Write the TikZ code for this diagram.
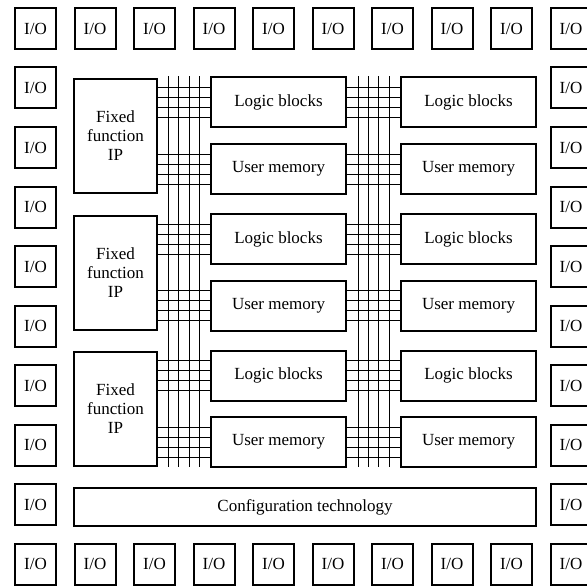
\documentclass[tikz,border=0pt]{standalone}
\usepackage{fontspec}
\setmainfont{Liberation Serif}
\usepackage{tikz}
\usetikzlibrary{positioning}
\tikzset{
    fpgapad/.style={draw, line width=2pt, minimum width=41pt, minimum height=41pt, inner sep=0pt, font=\fontsize{17}{19}\selectfont},
    fpgaip/.style={draw, line width=2pt, align=center, minimum width=83pt, minimum height=114pt, inner sep=0pt, font=\fontsize{17}{19}\selectfont},
    fpgablock/.style={draw, line width=2pt, align=center, minimum width=135pt, minimum height=50pt, inner sep=0pt, font=\fontsize{17}{19}\selectfont},
    fpgaconfig/.style={draw, line width=2pt, align=center, minimum width=462pt, minimum height=38pt, inner sep=0pt, font=\fontsize{17}{19}\selectfont},
    fpgawire/.style={draw, line width=1pt}
}
\begin{document}
\begin{tikzpicture}[x=1pt, y=-1pt]
    \useasboundingbox (0,0) rectangle (587,586);
    \clip (0,0) rectangle (587,586);

    % I/O ring
    \foreach \i in {0,...,9} {
        \node[fpgapad] (padT\i) at (35.5+59.5*\i, 28.5) {I/O};
        \node[fpgapad] (padB\i) at (35.5+59.5*\i, 564) {I/O};
    }
    \foreach \j in {1,...,8} {
        \node[fpgapad] (padL\j) at (35.5, 28.5+59.5*\j) {I/O};
        \node[fpgapad] (padR\j) at (571, 28.5+59.5*\j) {I/O};
    }

    % core blocks
    \foreach \k in {0,1,2} {
        \node[fpgaip] (ip\k) at (115.5, 136+136.5*\k) {Fixed\\function\\IP};
        \node[fpgablock] (logicL\k) at (278.5, 102.5+136.5*\k) {Logic blocks};
        \node[fpgablock] (memL\k) at (278.5, 169+136.5*\k) {User memory};
        \node[fpgablock] (logicR\k) at (468.5, 102.5+136.5*\k) {Logic blocks};
        \node[fpgablock] (memR\k) at (468.5, 169+136.5*\k) {User memory};
    }
    \node[fpgaconfig] (config) at (305, 507) {Configuration technology};

    % routing
    \coordinate (busL) at (184, 0);
    \coordinate (busR) at (373.5, 0);
    \foreach \d in {-15.5,-5.2,5.2,15.5} {
        \draw[fpgawire] ([xshift=\d pt]busL |- logicL0.north) -- ([xshift=\d pt]busL |- ip2.south);
        \draw[fpgawire] ([xshift=\d pt]busR |- logicL0.north) -- ([xshift=\d pt]busR |- ip2.south);
    }
    \foreach \k in {0,1,2} {
        \foreach \d in {-15,-5,5,15} {
            \draw[fpgawire] ([yshift=\d pt]logicL\k.west) -- ([yshift=\d pt]logicL\k.west -| ip\k.east);
            \draw[fpgawire] ([yshift=\d pt]memL\k.west) -- ([yshift=\d pt]memL\k.west -| ip\k.east);
            \draw[fpgawire] ([yshift=\d pt]logicR\k.west) -- ([yshift=\d pt]logicR\k.west -| logicL\k.east);
            \draw[fpgawire] ([yshift=\d pt]memR\k.west) -- ([yshift=\d pt]memR\k.west -| memL\k.east);
        }
    }
\end{tikzpicture}
\end{document}
